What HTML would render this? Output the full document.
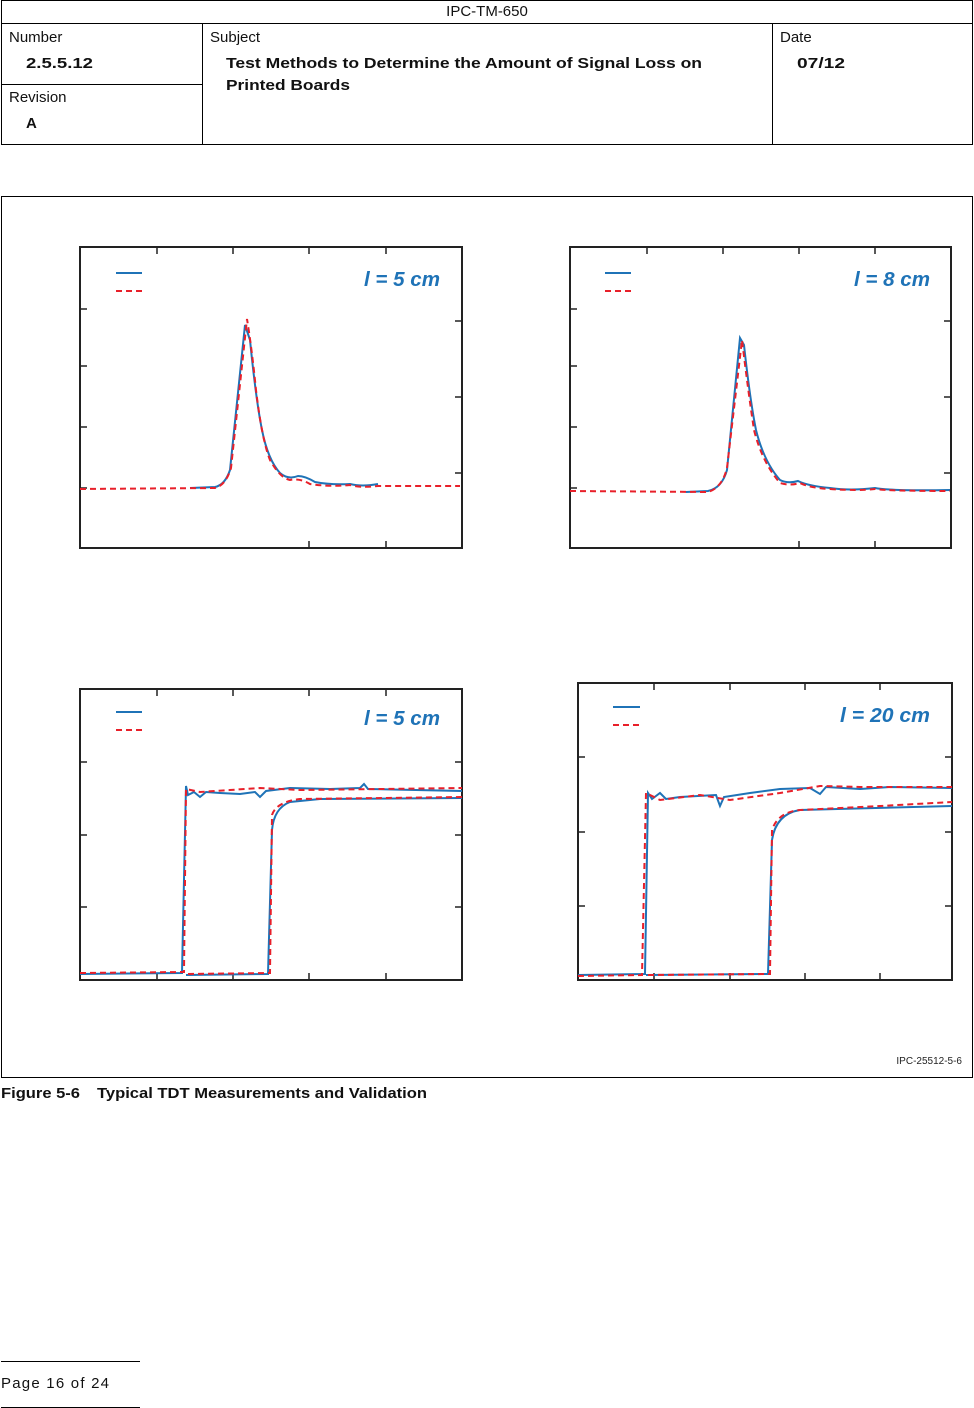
<!DOCTYPE html>
<html><head><meta charset="utf-8"><style>
body{margin:0;background:#fff}
svg{display:block}
text{font-family:"Liberation Sans",sans-serif}
</style></head><body>
<svg width="974" height="1408" viewBox="0 0 974 1408" xmlns="http://www.w3.org/2000/svg">
<g fill="none" stroke="#000" stroke-width="1">
<rect x="1.5" y="0.5" width="971" height="144"/>
<line x1="1" y1="23.5" x2="973" y2="23.5"/>
<line x1="202.5" y1="23" x2="202.5" y2="144"/>
<line x1="772.5" y1="23" x2="772.5" y2="144"/>
<line x1="1" y1="84.5" x2="202" y2="84.5"/>
<rect x="1.5" y="196.5" width="971" height="881"/>
</g>
<g font-size="15" fill="#111">
<text x="487" y="16" text-anchor="middle">IPC-TM-650</text>
<text x="9" y="42">Number</text>
<text x="9" y="102">Revision</text>
<text x="210" y="42">Subject</text>
<text x="780" y="42">Date</text>
<g font-weight="bold">
<text x="26" y="68" textLength="67" lengthAdjust="spacingAndGlyphs">2.5.5.12</text>
<text x="26" y="128">A</text>
<text x="226" y="68" textLength="476" lengthAdjust="spacingAndGlyphs">Test Methods to Determine the Amount of Signal Loss on</text>
<text x="226" y="90" textLength="124" lengthAdjust="spacingAndGlyphs">Printed Boards</text>
<text x="797" y="68" textLength="48" lengthAdjust="spacingAndGlyphs">07/12</text>
<text x="1" y="1098" textLength="79" lengthAdjust="spacingAndGlyphs">Figure 5-6</text>
<text x="97" y="1098" textLength="330" lengthAdjust="spacingAndGlyphs">Typical TDT Measurements and Validation</text>
</g>
<text x="1" y="1388" textLength="108" lengthAdjust="spacing">Page  16  of  24</text>
</g>
<text x="962" y="1064" font-size="10" text-anchor="end" fill="#222">IPC-25512-5-6</text>
<g stroke="#000" stroke-width="1"><line x1="1" y1="1361.5" x2="140" y2="1361.5"/><line x1="1" y1="1407.5" x2="140" y2="1407.5"/></g>

<g fill="none" stroke="#222" stroke-width="2">
<rect x="80" y="247" width="382" height="301"/>
<rect x="570" y="247" width="381" height="301"/>
<rect x="80" y="689" width="382" height="291"/>
<rect x="578" y="683" width="374" height="297"/>
</g>
<g stroke="#222" stroke-width="1.5">
<path d="M157 247v7M233 247v7M309 247v7M386 247v7M80 309h7M80 366h7M80 427h7M80 488h7M462 321h-7M462 397h-7M462 473h-7M309 548v-7M386 548v-7"/>
<path d="M647 247v7M723 247v7M799 247v7M875 247v7M570 309h7M570 366h7M570 427h7M570 488h7M951 321h-7M951 397h-7M951 473h-7M799 548v-7M875 548v-7"/>
<path d="M157 689v7M233 689v7M309 689v7M386 689v7M80 762h7M80 835h7M80 907h7M462 762h-7M462 835h-7M462 907h-7M157 980v-7M233 980v-7M309 980v-7M386 980v-7"/>
<path d="M654 683v7M730 683v7M805 683v7M880 683v7M578 757h7M578 832h7M578 906h7M952 757h-7M952 832h-7M952 906h-7M654 980v-7M730 980v-7M805 980v-7M880 980v-7"/>
</g>
<g stroke-width="2">
<path d="M116 273h26M605 273h26M116 712h26M613 707h27" stroke="#1f73b7"/>
<path d="M116 291h26M605 291h26M116 730h26M613 725h27" stroke="#e8202a" stroke-dasharray="6,4"/>
</g>
<g font-size="20" font-weight="bold" font-style="italic" fill="#1f73b7" text-anchor="end">
<text x="440" y="286" textLength="76" lengthAdjust="spacingAndGlyphs">l = 5 cm</text>
<text x="930" y="286" textLength="76" lengthAdjust="spacingAndGlyphs">l = 8 cm</text>
<text x="440" y="725" textLength="76" lengthAdjust="spacingAndGlyphs">l = 5 cm</text>
<text x="930" y="722" textLength="90" lengthAdjust="spacingAndGlyphs">l = 20 cm</text>
</g>
<g fill="none" stroke-width="2">
<path stroke="#1f73b7" d="M190 488L215 487Q225 485 230 470L245 325L250 340Q256 400 262 430Q268 460 280 473Q288 480 298 476Q305 476 315 482Q330 485 350 484Q362 487 378 484"/>
<path stroke="#e8202a" stroke-dasharray="6,4" d="M80 489L215 488Q226 485 231 468L247 319Q252 350 256 390Q262 440 270 460Q280 478 290 480Q300 478 310 484Q330 487 350 485Q360 488 378 486L460 486"/>
<path stroke="#1f73b7" d="M686 492L708 491Q722 488 727 470L740 338L744 345Q750 400 756 430Q764 462 780 480Q788 484 798 481Q808 486 830 488Q850 491 875 488Q890 491 950 490"/>
<path stroke="#e8202a" stroke-dasharray="6,4" d="M570 491L708 492Q722 488 727 468L742 340Q748 390 754 430Q762 462 780 483Q790 486 800 483Q810 488 830 489Q860 491 875 489Q890 491 950 491"/>
<path stroke="#1f73b7" d="M80 974L182 973L186 786L188 795L194 792L200 797L206 792L220 793L240 794L255 792L260 797L266 791L290 788L330 789L360 788L364 784L368 789L462 791M186 975L268 974L272 830Q274 808 290 802L320 799L462 798"/>
<path stroke="#e8202a" stroke-dasharray="6,4" d="M80 973L184 972L186 789L200 792L230 790L260 788L300 790L462 788M188 974L270 973L272 815Q276 802 300 799L462 797"/>
<path stroke="#1f73b7" d="M578 975L645 974L648 793L652 799L660 793L666 799L680 797L716 795L720 806L724 797L750 793L780 789L810 788L820 794L826 787L860 789L890 787L952 788M646 975L768 974L772 840Q776 814 800 810L952 806"/>
<path stroke="#e8202a" stroke-dasharray="6,4" d="M578 976L642 975L646 793L660 800L700 795L730 800L780 793L820 786L860 787L952 787M648 975L770 974L772 830Q778 812 800 810L880 806L952 802"/>
</g>
</svg>
</body></html>
